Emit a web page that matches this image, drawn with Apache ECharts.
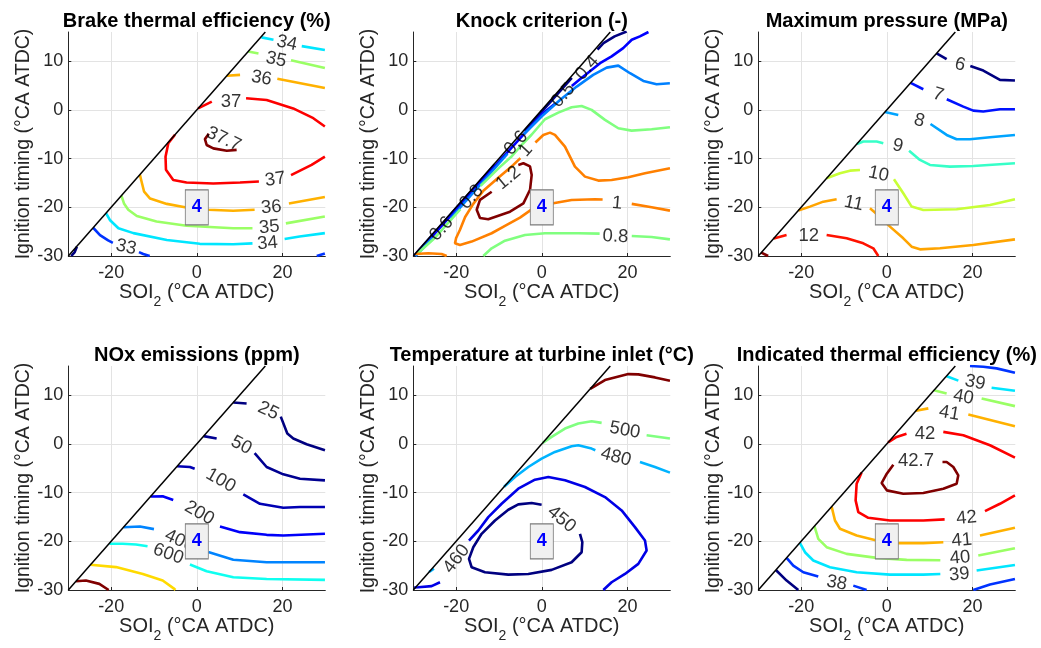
<!DOCTYPE html>
<html><head><meta charset="utf-8">
<script src="https://cdn.jsdelivr.net/npm/echarts@6/dist/echarts.min.js"></script>
<style>html,body{margin:0;padding:0;background:#fff}#c{width:1041px;height:648px}</style>
</head><body><div id="c"></div>
<script>
// ---------- shared axis data ----------
const xTicks = [-20, 0, 20];
const yTicks = [-30, -20, -10, 0, 10];
const xRange = [-30, 30];
const yRange = [-30, 16];
const boundary = [[-30, -30], [16, 16]];
const boxPoint = [0, -20];
const boxText = '4';
const titles = ['Brake thermal efficiency (%)', 'Knock criterion (-)', 'Maximum pressure (MPa)',
  'NOx emissions (ppm)', 'Temperature at turbine inlet (°C)', 'Indicated thermal efficiency (%)'];
const colourRanges = [[32, 37.7], [0.4, 1.2], [6, 13], [25, 1500], [450, 550], [37, 42.7]];

// ---------- contour lines: [level, [[x,y],...]] ----------
const bteLines = [
  [32, [[-29.3,-30],[-28.5,-29.2],[-28.0,-28.1]]],
  [33, [[-24.2,-24.2],[-22.6,-25.7],[-20.7,-26.8],[-19.6,-27.3]]],
  [33, [[-13.5,-29.2],[-12.5,-29.6],[-11.0,-30]]],
  [33, [[28.0,-30],[29.9,-29.5]]],
  [34, [[-21.2,-21.2],[-20.3,-22.6],[-18.3,-24.3],[-14.8,-25.3],[-7.0,-26.7],[0.7,-27.5],[8.5,-27.6],[13.0,-27.4]]],
  [34, [[20.5,-26.5],[24,-26.0],[29.9,-25.3]]],
  [34, [[15.1,14.9],[17.9,14.4]]],
  [34, [[24.5,13.1],[29.9,12.3]]],
  [35, [[12.0,12.0],[14.4,11.6]]],
  [35, [[22.0,10.2],[29.9,8.6]]],
  [36, [[7.0,7.0],[10.1,7.2]]],
  [36, [[18.8,6.4],[29.9,4.5]]],
  [37, [[0.3,0.3],[3.5,1.7]]],
  [37, [[11.5,2.4],[16.3,2.05],[22.5,0.3],[27.2,-1.7],[29.9,-3.4]]],
  [37, [[-5.1,-5.1],[-6.65,-6.85],[-7.3,-9.6],[-7.2,-12.3],[-5.5,-14.4],[-2.4,-14.9],[3.85,-15.1],[10.1,-14.9],[14.5,-14.7]]],
  [37, [[22.0,-13.4],[26.8,-11.3],[29.9,-9.6]]],
  [37.7, [[2.8,-4.9],[1.9,-6.0],[2.3,-7.2],[3.85,-7.9],[7.0,-8.4],[9.3,-8.2]]],
  [36, [[-13.3,-13.3],[-12.9,-14.7],[-12.3,-16.8],[-10.9,-18.2],[-7.0,-19.3],[-2.75,-20.0],[2.7,-20.5],[8.5,-20.7],[13.5,-20.5]]],
  [36, [[21.5,-19.2],[29.9,-17.9]]],
  [35, [[-17.6,-17.6],[-17.0,-19.2],[-16.0,-20.5],[-14.0,-21.8],[-9.4,-22.9],[-2.4,-23.8],[8.5,-24.3],[13.0,-24.3]]],
  [35, [[20.8,-23.3],[29.9,-21.9]]]
];
const bteLabels = [
  [21.0,13.7,'34',-12],[18.5,10.3,'35',-12],[15.1,6.5,'36',-10],[8.0,1.6,'37',0],[6.3,-6.0,'37.7',-25],
  [18.3,-14.3,'37',8],[17.4,-20.0,'36',5],[16.9,-24.1,'35',5],[16.5,-27.4,'34',5],[-16.5,-28.2,'33',-12]
];

const knockLines = [
  [0.4, [[-29.8,-29.9],[-11,-11.25]]],
  [0.4, [[-4,-4.3],[7.0,6.6]]],
  [0.4, [[13.0,12.4],[14.4,13.7],[17,15.1],[19.8,16.1]]],
  [0.5, [[-29.6,-29.9],[-20,-20.5],[-10,-10.6],[0,-0.9],[3,1.2]]],
  [0.5, [[7.0,4.9],[8.9,6.3],[13.6,9.6],[16.3,11],[19,12.7],[21,14.4],[22.9,15.1],[24.9,16]]],
  [0.6, [[-29.5,-30],[-25.5,-26.3]]],
  [0.6, [[-21.3,-22.3],[-8,-9.0]]],
  [0.6, [[-4.2,-5.0],[0,-1.3],[4.25,2.05],[8.15,4.79],[12.0,7.2],[15.15,8.69],[17.86,9.1],[20.6,7.53],[23.7,5.95],[26.8,5.27],[29.9,5.48]]],
  [0.8, [[-29,-29.5],[-25,-26.3],[-19,-20.4]]],
  [0.8, [[-14.3,-15.6],[-10,-11.9],[-7,-9.5],[-4.5,-7.0],[-2.4,-5.1],[0.74,-1.92],[3.85,-0.55],[6.96,0.55],[9.3,0.82],[11.63,0],[14.75,-2.05],[17.86,-3.77],[20.97,-4.25],[25.64,-3.97],[29.92,-3.56]]],
  [0.8, [[-13.66,-30],[-11.71,-28.42],[-8.6,-26.85],[-3.93,-25.68],[0.74,-25.34],[8.52,-25.34],[13.5,-25.4]]],
  [0.8, [[21,-25.9],[25.64,-26.1],[29.92,-26.58]]],
  [1, [[-1.5,-6.7],[0.35,-5.14],[1.91,-4.66],[3.07,-5.14],[5.41,-7.53],[7.74,-11.64],[10.08,-13.7],[13.19,-14.52],[16.3,-14.38],[20.19,-13.84],[24.09,-13.01],[29.92,-11.99]]],
  [1, [[-5.0,-9.9],[-6.65,-11.3],[-10.5,-14.2],[-13.65,-16.6],[-16.0,-19.3],[-17.9,-22.0],[-19.1,-24.6],[-20.0,-26.3],[-20.27,-27.38],[-19.1,-27.72],[-16.38,-27.04],[-11.71,-25.33],[-8.6,-23.82],[-5.09,-22.11],[-2.52,-20.54],[0,-19.5],[2.68,-19.18],[6.96,-18.49],[12.41,-18.36],[14.2,-18.4]]],
  [1, [[21,-19.3],[25.64,-20.0],[29.92,-20.68]]],
  [1, [[-29.6,-29.6],[-26.5,-29.45],[-23.4,-29.6],[-22.2,-30]]],
  [1.2, [[-11.7,-16.8],[-14.43,-18.48],[-15.2,-20.5],[-14.43,-22.2],[-12.5,-22.45],[-7.42,-20.9],[-4.3,-19.2],[-2.75,-16.4],[-2.36,-13.35],[-2.75,-11.6],[-4.3,-10.95],[-5.48,-11.3]]]
];
const knockLabels = [
  [-23.4,-24.4,'0.6',48],[-16.4,-17.9,'0.8',48],[-6.0,-6.8,'0.6',48],[-3.7,-8.3,'1',48],
  [5.0,3.0,'0.5',48],[10.6,8.6,'0.4',48],[-7.8,-14.0,'1.2',40],[17.6,-19.2,'1',-5],[17.2,-26.0,'0.8',-3]
];

const pmaxLines = [
  [6, [[11.63,11.63],[13.97,10.41]]],
  [6, [[19.5,9.0],[22.53,8.08],[26.42,6.16],[29.92,6.03]]],
  [7, [[5.56,5.56],[8.52,4.25]]],
  [7, [[14.0,2.2],[17.86,0.68],[20.19,-0.14],[22.53,-0.34],[26.42,0.14],[29.92,0.14]]],
  [8, [[-0.43,-0.43],[2.68,-1.03]]],
  [8, [[10.2,-2.9],[13.97,-5.14],[16.3,-6.03],[19.42,-6.03],[24.09,-5.62],[29.92,-5.14]]],
  [9, [[-7.0,-7.0],[-5.49,-6.5],[-2.37,-6.5],[-0.82,-6.85]]],
  [9, [[5.2,-8.4],[7.74,-10.27],[10.08,-11.3],[14.75,-11.64],[20.19,-11.51],[29.92,-10.96]]],
  [10, [[-14.05,-14.05],[-10.93,-13.01],[-8.6,-12.47],[-6.26,-12.33]]],
  [10, [[1.67,-14.25],[3.85,-17.12],[5.8,-19.86],[8.52,-20.55],[16.3,-20.41],[24.09,-19.52],[29.92,-18.36]]],
  [11, [[-20.66,-20.66],[-17.94,-19.86],[-14.82,-18.84],[-11.71,-18.36]]],
  [11, [[-3.93,-20.21],[-1.6,-21.92],[0.74,-23.97],[3.85,-26.37],[5.8,-28.08],[7.74,-28.63],[12.41,-28.42],[20.19,-27.74],[29.92,-26.58]]],
  [12, [[-26.4,-26.4],[-23.4,-25.7]]],
  [12, [[-14.05,-25.68],[-9.38,-26.37],[-5.49,-27.4],[-3.15,-28.42],[-1.98,-30]]],
  [13, [[-29.3,-29.3],[-27.7,-30]]]
];
const pmaxLabels = [
  [17.1,9.3,'6',-15],[12.0,3.1,'7',-18],[7.6,-2.2,'8',-15],[2.6,-7.4,'9',-12],
  [-1.9,-13.2,'10',-12],[-7.7,-19.2,'11',-12],[-18.2,-25.8,'12',0]
];

const noxLines = [
  [25, [[8.52,8.52],[11.63,8.3]]],
  [25, [[19.6,5.6],[20.04,5.22],[21.13,2.13],[22.53,1.1],[25.64,-0.07],[29.92,-1.3]]],
  [50, [[1.6,1.6],[4.63,1.1]]],
  [50, [[13.5,-1.9],[16.3,-4.74],[20.19,-6.25],[24.09,-7.14],[29.92,-7.48]]],
  [100, [[-4.6,-4.6],[-1.6,-4.74],[-0.5,-5.1]]],
  [100, [[10.86,-10.36],[14.75,-12.29],[20.19,-13.11],[24.09,-12.97],[29.92,-12.97]]],
  [200, [[-10.8,-10.8],[-7.82,-10.78],[-5.5,-11.5]]],
  [200, [[5.41,-16.95],[10.08,-18.12],[16.3,-18.67],[20.19,-18.81],[29.92,-18.46]]],
  [400, [[-17.1,-17.1],[-13.27,-16.95],[-10,-17.5]]],
  [400, [[2.68,-22.2],[8.52,-23.8],[16.3,-24.3],[29.92,-24.3]]],
  [600, [[-20.4,-20.5],[-17.3,-20.5],[-14.2,-20.65],[-11.5,-21.0]]],
  [600, [[-1.6,-24.78],[2.3,-26.15],[8.52,-27.39],[16.3,-27.73],[29.92,-27.93]]],
  [1000, [[-24.8,-24.8],[-18.86,-25.3],[-12.6,-26.7],[-7.96,-28.06],[-5.25,-29.77],[-5.0,-30]]],
  [1500, [[-28.2,-28.2],[-25.9,-28.06],[-22.76,-28.74],[-20.57,-30]]]
];
const noxLabels = [
  [16.7,6.8,'25',-25],[10.4,-0.3,'50',-28],[5.6,-7.5,'100',-30],[0.6,-14.2,'200',-30],
  [-4.0,-19.9,'400',-25],[-6.65,-22.6,'600',-20]
];

const titLines = [
  [550, [[11.3,11.3],[14.75,13.11],[20.19,14.34],[22.53,14.28],[26.42,13.66],[29.92,12.97]]],
  [500, [[0.2,0.2],[2.3,1.44],[5.41,3.16],[8.52,4.19],[11.63,4.67],[13.97,4.32]]],
  [500, [[24.47,1.78],[29.92,1.1]]],
  [480, [[-8.8,-8.8],[-6.26,-6.79],[-3.15,-4.74],[-0.04,-3.02],[3.07,-1.65],[6.96,-0.48],[8.52,-0.27],[11.63,-0.96],[12.5,-1.3]]],
  [480, [[22.92,-3.71],[26.42,-4.74],[29.92,-5.9]]],
  [480, [[-26.3,-26.3],[-25.2,-25.6]]],
  [460, [[-29.8,-29.5],[-28.83,-29.44],[-25.72,-29.2],[-23.77,-28.4]]],
  [460, [[-17,-19.84],[-14.82,-17.78],[-12.49,-15.03],[-9.38,-12.29],[-5.49,-9.2],[-1.6,-7.34],[1.52,-6.79],[5.41,-7.48],[10.08,-8.85],[14.75,-10.91],[18.64,-13.66],[21.75,-17.09],[24.09,-19.84],[24.47,-21.89],[22.53,-24.64],[19.42,-26.7],[16.3,-28.41],[14.36,-30]]],
  [450, [[8.91,-18.46],[9.46,-20.18],[9.3,-22.24],[6.96,-24.3],[2.3,-25.87],[-3.15,-26.7],[-7.82,-26.84],[-13.27,-26.35],[-16.38,-25.33],[-17,-23.61],[-16,-21.21],[-14.05,-18.46],[-10.93,-15.72],[-7.82,-13.52],[-5.49,-12.42],[-2.37,-12.15],[-0.04,-12.49]]]
];
const titLabels = [
  [19.4,2.8,'500',-10],[17.3,-2.7,'480',-15],[4.6,-15.5,'450',-40],[-19.9,-23.6,'460',52]
];

const iteLines = [
  [37, [[-25.9,-25.9],[-23.39,-28.07],[-20.66,-30]]],
  [38, [[-23.4,-23.4],[-21.83,-24.98],[-19.49,-26.35],[-16.0,-27.25]]],
  [38, [[-7.82,-29.1],[-4.71,-30]]],
  [38, [[20.19,-30],[24.09,-28.89],[29.92,-27.73]]],
  [38, [[19.42,16],[22.53,15.85],[25.64,15.51],[29.92,14.62]]],
  [39, [[14.0,13.9],[16.7,13.0]]],
  [39, [[24.47,11.53],[29.92,10.91]]],
  [40, [[11.0,11.0],[13.97,10.36]]],
  [40, [[22.14,9.33],[29.92,7.76]]],
  [41, [[6.8,6.8],[9.7,7.3]]],
  [41, [[19.03,6.04],[29.92,3.64]]],
  [42, [[0.3,0.3],[2.3,1.44],[4.6,2.1]]],
  [42, [[13.19,2.47],[17.86,1.78],[24.09,-0.27],[29.92,-2.81]]],
  [42, [[-5.9,-5.9],[-7.04,-8.17],[-7.28,-11.6],[-6.65,-14.0],[-4.32,-15.17],[0.74,-15.72],[8.52,-15.72],[13.5,-15.5]]],
  [42, [[22.92,-13.8],[26.42,-12.29],[29.92,-10.57]]],
  [42.7, [[1.52,-4.26],[0,-6.11],[-1.21,-8.03],[0,-9.54],[3.85,-10.23],[8.52,-10.09],[13.19,-9.2],[16.3,-8.17],[16.69,-6.45],[15.53,-4.74],[13.97,-3.71],[13.0,-3.7]]],
  [41, [[-12.88,-12.88],[-12.1,-15.72],[-10.93,-17.43],[-7.04,-18.81],[-2.37,-19.84],[2.68,-20.38],[8.52,-20.38],[13.2,-20.2]]],
  [41, [[21.75,-18.81],[29.92,-17.23]]],
  [40, [[-16.9,-16.9],[-15.99,-19.49],[-14.05,-21.21],[-9.38,-22.58],[-2.37,-23.4],[4.63,-23.82],[12.5,-23.9]]],
  [40, [[21.36,-22.92],[29.92,-21.41]]],
  [39, [[-20.3,-20.3],[-19.1,-22.24],[-17.16,-23.95],[-13.27,-25.33],[-7.04,-26.35],[0.74,-26.84],[8.52,-26.84],[12.5,-26.7]]],
  [39, [[20.97,-26.01],[29.92,-24.85]]]
];
const iteLabels = [
  [20.6,12.6,'39',-12],[17.9,9.6,'40',-10],[14.6,6.3,'41',-10],[8.9,2.1,'42',0],[6.8,-3.5,'42.7',0],
  [18.6,-15.2,'42',5],[17.5,-19.8,'41',5],[17.1,-23.4,'40',5],[16.9,-26.8,'39',5],[-11.7,-28.55,'38',-10]
];

// ---------- layout / style ----------
const FF = '"Liberation Sans", Arial, Helvetica, sans-serif';
const TXT = '#262626';
const colX = [68.3, 413.3, 758.3];
const rowY = [32, 366];
const GW = 257, GH = 224;
const allLines = [bteLines, knockLines, pmaxLines, noxLines, titLines, iteLines];
const allLabels = [bteLabels, knockLabels, pmaxLabels, noxLabels, titLabels, iteLabels];

function jet(v, lo, hi) {
  const t = (v - lo) / (hi - lo);
  const c = x => Math.round(255 * Math.max(0, Math.min(1, x)));
  return 'rgb(' + c(1.5 - Math.abs(4*t - 3)) + ',' + c(1.5 - Math.abs(4*t - 2)) + ',' + c(1.5 - Math.abs(4*t - 1)) + ')';
}

const grid = [], xAxis = [], yAxis = [], series = [], title = [];
for (let i = 0; i < 6; i++) {
  const left = colX[i % 3], top = rowY[Math.floor(i / 3)];
  grid.push({ left: left, top: top, width: GW, height: GH, outerBoundsMode: 'none', containLabel: false });
  title.push({
    text: titles[i], left: left + GW / 2, top: top - 21, textAlign: 'center', padding: 0,
    textStyle: { fontFamily: FF, fontSize: 20, fontWeight: 'bold', color: '#000' }
  });
  xAxis.push({
    gridIndex: i, type: 'value', min: xRange[0], max: xRange[1],
    name: '{a|SOI}{s|2}{a| (°CA ATDC)}', nameLocation: 'middle', nameGap: 25,
    nameTextStyle: { fontFamily: FF, color: TXT, fontSize: 20,
      rich: { a: { fontFamily: FF, color: TXT, fontSize: 20, lineHeight: 22, verticalAlign: 'top' },
              s: { fontFamily: FF, color: TXT, fontSize: 14, lineHeight: 14, padding: [12, 0, 0, 0], verticalAlign: 'top' } } },
    axisLine: { show: true, onZero: false, lineStyle: { color: TXT, width: 1 } },
    axisTick: { show: true, inside: true, length: 3, customValues: xTicks, lineStyle: { color: TXT } },
    axisLabel: { customValues: xTicks, fontFamily: FF, fontSize: 18, color: TXT, margin: 8 },
    splitLine: { show: true, lineStyle: { color: '#e3e3e3', width: 1 } }
  });
  yAxis.push({
    gridIndex: i, type: 'value', min: yRange[0], max: yRange[1],
    name: 'Ignition timing (°CA ATDC)', nameLocation: 'middle', nameGap: 33,
    nameTextStyle: { fontFamily: FF, color: TXT, fontSize: 19.5 },
    axisLine: { show: true, onZero: false, lineStyle: { color: TXT, width: 1 } },
    axisTick: { show: true, inside: true, length: 3, customValues: yTicks, lineStyle: { color: TXT } },
    axisLabel: { customValues: yTicks, fontFamily: FF, fontSize: 18, color: TXT, margin: 5 },
    splitLine: { show: true, lineStyle: { color: '#e3e3e3', width: 1 } }
  });
  const rng = colourRanges[i];
  allLines[i].forEach(function (c) {
    series.push({
      type: 'line', xAxisIndex: i, yAxisIndex: i, data: c[1], symbol: 'none', silent: true, z: 2,
      lineStyle: { color: jet(c[0], rng[0], rng[1]), width: 2.6 }
    });
  });
  series.push({
    type: 'line', xAxisIndex: i, yAxisIndex: i, data: boundary, symbol: 'none', silent: true, z: 3,
    lineStyle: { color: '#000', width: 1.5 }
  });
  series.push({
    type: 'scatter', xAxisIndex: i, yAxisIndex: i, silent: true, z: 4, symbolSize: 1,
    itemStyle: { color: 'rgba(0,0,0,0)' },
    data: allLabels[i].map(function (l) {
      return { value: [l[0], l[1]], name: l[2], label: { rotate: l[3] } };
    }),
    label: { show: true, position: 'inside', formatter: '{b}', fontFamily: FF, fontSize: 18.5, color: '#000' }
  });
  series.push({
    type: 'scatter', xAxisIndex: i, yAxisIndex: i, silent: true, z: 6,
    symbol: 'rect', symbolSize: [23, 35],
    itemStyle: { color: '#f0f0f0', borderColor: '#7a7a7a', borderWidth: 1, opacity: 1 },
    data: [{ value: boxPoint, name: boxText }],
    label: { show: true, position: 'inside', formatter: '{b}', fontFamily: FF, fontSize: 18, fontWeight: 'bold', color: '#0000ff' }
  });
}

const chart = echarts.init(document.getElementById('c'), null, { renderer: 'canvas' });
chart.setOption({ animation: false, backgroundColor: '#fff', title: title, grid: grid, xAxis: xAxis, yAxis: yAxis, series: series });
</script>
</body></html>
